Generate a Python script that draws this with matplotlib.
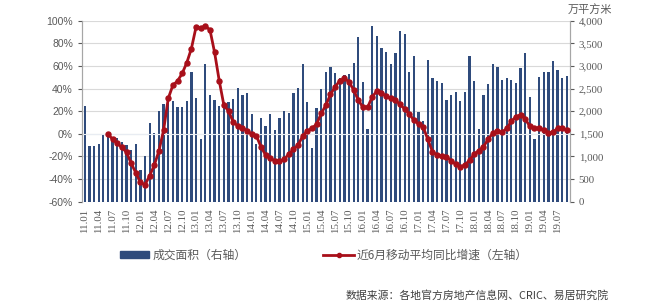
#!/usr/bin/env python
# -*- coding: utf-8 -*-

"""Monthly transaction area (bars, right axis) and 6-month moving yoy growth (line, left axis)."""

import matplotlib
matplotlib.use("Agg")
import matplotlib.pyplot as plt
from matplotlib import ticker
from matplotlib.lines import Line2D
from matplotlib.patches import Patch

plt.rcParams["font.family"] = ["Noto Sans CJK SC", "DejaVu Sans"]

# data section (2011.01 .. 2019.09, one value per month)
area = [2125, 1225, 1230, 1270, 1505, 1460, 1435, 1400, 1325, 1250, 1145, 1280,
        695, 1000, 1750, 1515, 2005, 2150, 2240, 2225, 2100, 2090, 2225, 2872,
        2283, 1377, 3040, 2365, 2246, 2118, 2200, 2195, 2265, 2522, 2365, 2408,
        1930, 1267, 1842, 1680, 1937, 1583, 1842, 1995, 1966, 2408, 2510, 3035,
        2210, 1185, 2077, 2482, 2858, 2983, 2836, 2740, 2800, 2820, 3057, 3650,
        2652, 1600, 3882, 3655, 3389, 3315, 3040, 3285, 3771, 3698, 2860, 3220,
        1985, 1780, 3130, 2726, 2670, 2615, 2255, 2350, 2431, 2228, 2425, 3226,
        2660, 1600, 2357, 2600, 3040, 2983, 2680, 2726, 2689, 2615, 2961, 3285,
        2320, 1395, 2762, 2858, 2873, 3116, 2910, 2745, 2780]

# moving average growth starts with 2011.06
growth_start = 5
growth = [0.0, -4.9, -8.4, -12.0, -16.4, -26.0, -34.4,
          -43.0, -45.0, -37.0, -27.6, -15.0, 3.3, 31.3, 43.0, 46.7, 53.4, 62.9, 75.5,
          94.5, 93.8, 95.3, 92.0, 72.0, 47.0, 25.4, 20.1, 10.7, 6.9, 5.4, 2.7,
          -0.2, -1.7, -11.4, -18.8, -21.7, -23.8, -24.0, -22.6, -17.9, -13.8, -9.9, -2.0,
          2.7, 4.8, 8.6, 18.0, 25.4, 34.9, 41.6, 47.0, 49.0, 46.0, 38.7, 29.9,
          23.4, 23.4, 32.8, 37.8, 36.3, 33.4, 31.3, 29.9, 26.0, 22.0, 17.5, 12.0,
          8.6, 6.0, -5.0, -15.8, -18.8, -19.6, -20.2, -23.8, -26.7, -29.0, -27.6, -23.2,
          -17.9, -14.8, -11.4, -4.8, 0.5, 2.2, 1.2, 4.8, 11.0, 15.1, 16.9, 13.2,
          6.6, 4.8, 5.0, 3.8, 0.4, 1.5, 5.0, 5.0, 3.3]

tick_labels = ["11.01", "11.04", "11.07", "11.10", "12.01", "12.04", "12.07", "12.10",
               "13.01", "13.04", "13.07", "13.10", "14.01", "14.04", "14.07", "14.10",
               "15.01", "15.04", "15.07", "15.10", "16.01", "16.04", "16.07", "16.10",
               "17.01", "17.04", "17.07", "17.10", "18.01", "18.04", "18.07", "18.10",
               "19.01", "19.04", "19.07"]

bar_label = "成交面积（右轴）"
line_label = "近6月移动平均同比增速（左轴）"
source = "数据来源：各地官方房地产信息网、CRIC、易居研究院"

# the diagram section
bar_color = "#2F4B7C"
line_color = "#A80F1A"
text_color = "#595959"
grid_color = "#D9D9D9"

fig = plt.figure(figsize=(6.64, 3.06), dpi=100)
ax_bar = fig.add_axes([0.1235, 0.341, 0.7345, 0.591])
ax_line = ax_bar.twinx()

xval = list(range(len(area)))
ax_bar.bar(xval, area, width=0.5, color=bar_color, zorder=2)
ax_bar.set_ylim(0, 4000)
ax_bar.set_xlim(-0.6, len(area) - 0.4)
ax_bar.yaxis.set_major_locator(ticker.MultipleLocator(500))
ax_bar.yaxis.set_major_formatter(ticker.FuncFormatter(lambda y, _: f"{y:,.0f}"))
ax_bar.grid(axis="y", color=grid_color, lw=0.8, zorder=0)
ax_bar.set_axisbelow(True)
# zero line of the left axis crosses the bars
ax_bar.axhline(1500, color="#E8ECF2", lw=0.8, zorder=3)

ax_bar.set_xticks(range(0, len(area), 3))
ax_bar.set_xticklabels(tick_labels, rotation=90, fontsize=7.8, color=text_color,
                       family="Liberation Serif")
ax_bar.tick_params(axis="x", length=0, pad=5)

xline = list(range(growth_start, growth_start + len(growth)))
ax_line.plot(xline, growth, color=line_color, lw=2.0, marker="o", ms=3.6, zorder=4)
ax_line.set_ylim(-60, 100)
ax_line.yaxis.set_major_locator(ticker.MultipleLocator(20))
ax_line.yaxis.set_major_formatter(ticker.FuncFormatter(lambda y, _: f"{y:.0f}%"))

# bars read on the right, line read on the left
ax_bar.yaxis.tick_right()
ax_line.yaxis.tick_left()
ax_bar.tick_params(axis="y", labelsize=7.8, colors=text_color, length=3, width=0.8)
ax_line.tick_params(axis="y", labelsize=7.5, colors=text_color, length=3, width=0.8)
for label in ax_bar.get_yticklabels():
    label.set_family("Liberation Serif")
for label in ax_line.get_yticklabels():
    label.set_family("Liberation Sans")

for a in (ax_bar, ax_line):
    for side in ("top", "bottom"):
        a.spines[side].set_visible(False)
    a.spines["left"].set_color("#A6A6A6")
    a.spines["right"].set_color("#A6A6A6")

fig.text(0.855, 0.97, "万平方米", fontsize=8, color=text_color, va="center", ha="left")

# legend entries sit far apart, so two legends
leg1 = fig.legend(handles=[Patch(color=bar_color, label=bar_label)], loc="center left",
                  bbox_to_anchor=(0.165, 0.165), frameon=False, fontsize=8.5,
                  handlelength=2.4, handleheight=0.55, handletextpad=0.3)
leg2 = fig.legend(handles=[Line2D([], [], color=line_color, lw=2, marker="o", ms=3, label=line_label)],
                  loc="center left", bbox_to_anchor=(0.471, 0.165), frameon=False, fontsize=8.5,
                  handlelength=2.6, handletextpad=0.2)
for leg in (leg1, leg2):
    for t in leg.get_texts():
        t.set_color(text_color)

fig.text(0.52, 0.035, source, fontsize=7.8, color="#404040", va="center", ha="left")

fig.savefig("out.png", dpi=100)
